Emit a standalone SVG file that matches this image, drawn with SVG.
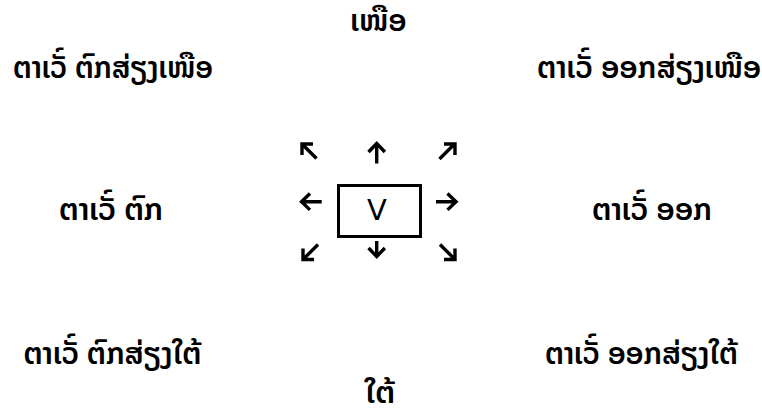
<svg xmlns="http://www.w3.org/2000/svg" width="762" height="419" viewBox="0 0 762 419">
<style>
.t{font-family:"Noto Sans Lao","DejaVu Sans",sans-serif;font-size:30px;font-weight:600;fill:#000;text-anchor:middle}
.ar{fill:none;stroke:#000;stroke-width:3.4;stroke-linecap:butt;stroke-linejoin:miter}
</style>
<rect width="762" height="419" fill="#fff"/>
<g id="north"><text class="t" x="378.5" y="31" font-size="27">ເໜືອ</text></g>
<g id="northwest"><text class="t" x="113" y="78" textLength="200" lengthAdjust="spacingAndGlyphs">ຕາເວັ໌ ຕົກສ່ຽງເໜືອ</text></g>
<g id="northeast"><text class="t" x="649" y="78" font-size="28">ຕາເວັ໌ ອອກສ່ຽງເໜືອ</text></g>
<g id="west"><text class="t" x="111" y="220" textLength="104" lengthAdjust="spacingAndGlyphs">ຕາເວັ໌ ຕົກ</text></g>
<g id="east"><text class="t" x="652" y="220" textLength="120" lengthAdjust="spacingAndGlyphs">ຕາເວັ໌ ອອກ</text></g>
<g id="southwest"><text class="t" x="112.5" y="364" textLength="178" lengthAdjust="spacingAndGlyphs">ຕາເວັ໌ ຕົກສ່ຽງໃຕ້</text></g>
<g id="southeast"><text class="t" x="641.5" y="364" textLength="193" lengthAdjust="spacingAndGlyphs">ຕາເວັ໌ ອອກສ່ຽງໃຕ້</text></g>
<g id="south"><text class="t" x="380" y="403" textLength="30" lengthAdjust="spacingAndGlyphs">ໃຕ້</text></g>
<g id="center">
<rect x="338.5" y="185.5" width="82" height="51" fill="none" stroke="#000" stroke-width="3"/>
<text x="377" y="220" font-family="DejaVu Sans,sans-serif" font-size="29" text-anchor="middle">V</text>
</g>
<g id="arrows">
<path class="ar" d="M316.5,158.5 L303,145 M313,144 L302,144 L302,155"/>
<path class="ar" d="M376.7,163.5 L376.7,143.5 M368.5,152 L376.7,143.5 L384.9,152"/>
<path class="ar" d="M439.5,159 L453,145.5 M444,144 L455,144 L455,155"/>
<path class="ar" d="M321.7,201.7 L301.5,201.7 M310,193.5 L301.5,201.7 L310,209.9"/>
<path class="ar" d="M436,201.7 L456,201.7 M447.5,193.5 L456,201.7 L447.5,209.9"/>
<path class="ar" d="M318,244.5 L304.5,258 M303,248.5 L303,259.5 L314,259.5"/>
<path class="ar" d="M376.7,241 L376.7,256.5 M368.5,248 L376.7,256.5 L384.9,248"/>
<path class="ar" d="M440,244.5 L453.5,258 M455,248.5 L455,259.5 L444,259.5"/>
</g>
</svg>
